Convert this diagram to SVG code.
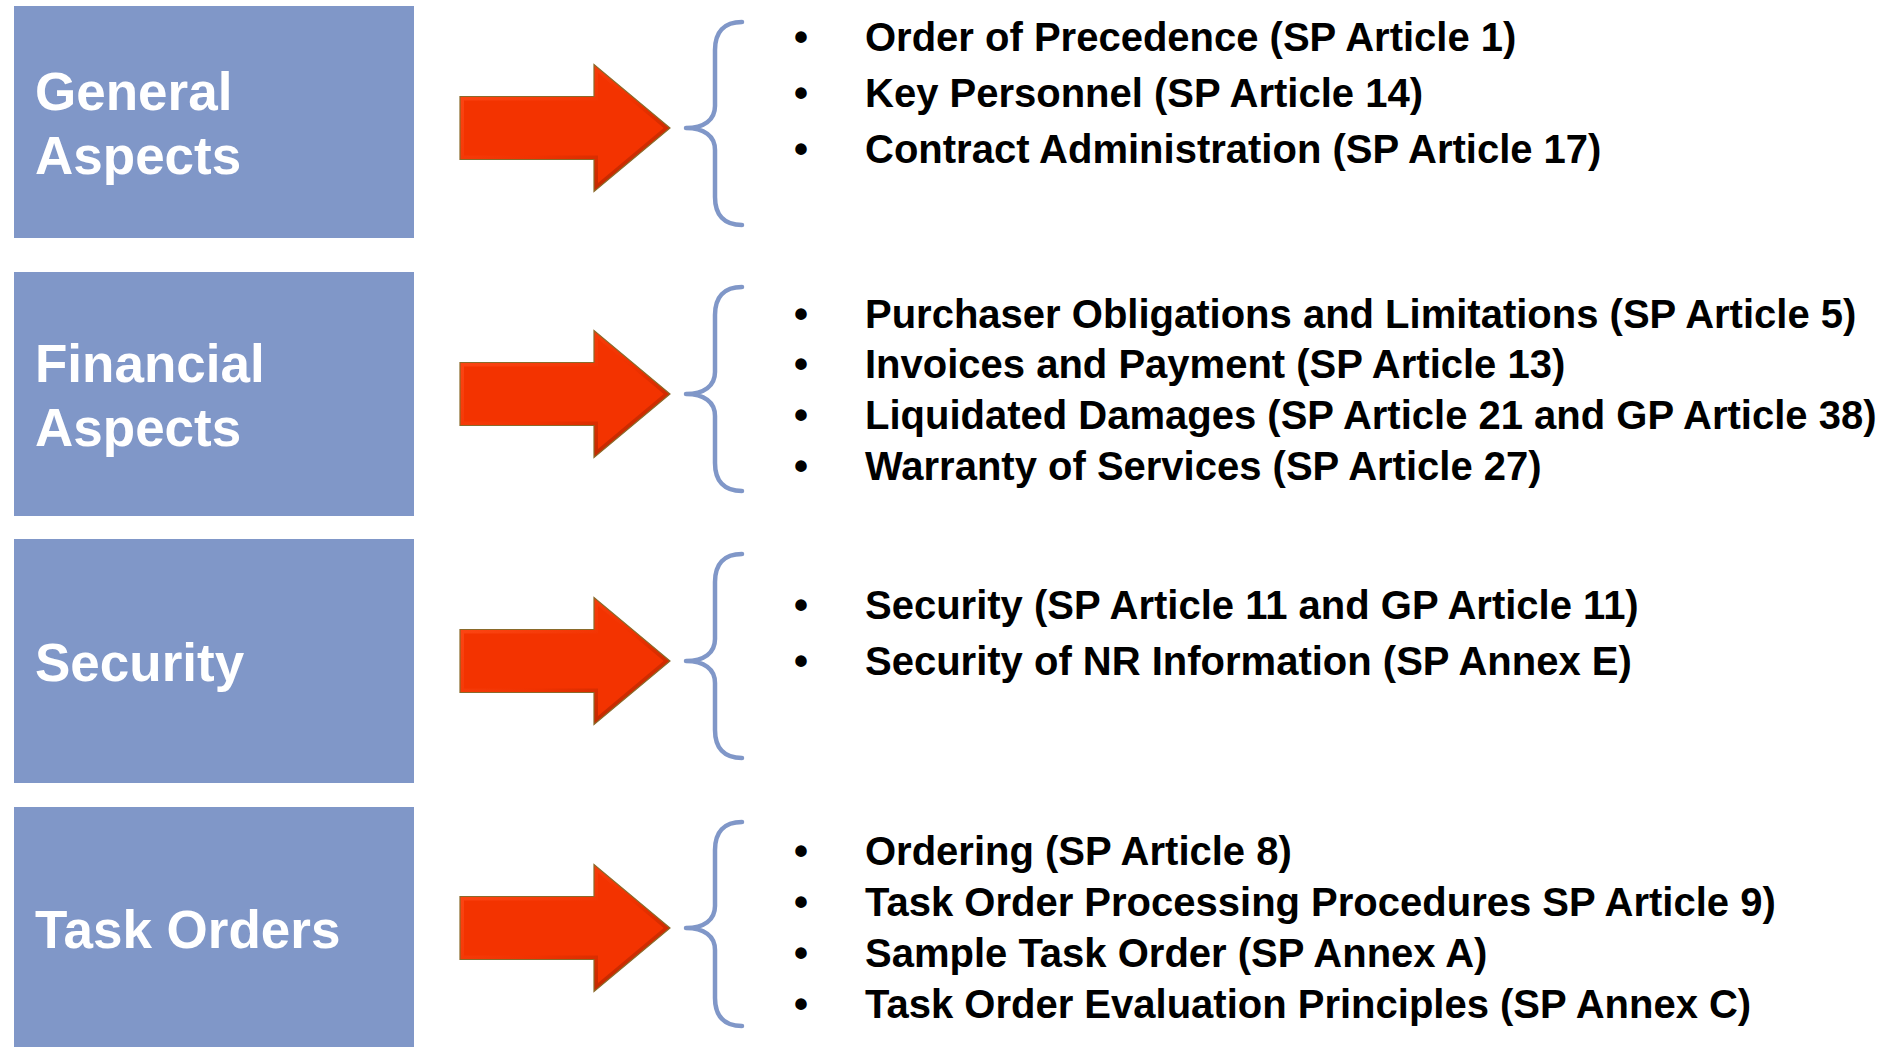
<svg xmlns="http://www.w3.org/2000/svg" width="1881" height="1047" viewBox="0 0 1881 1047">
  <style>
    .box { fill: #8097C8; }
    .box-label { font-family: "Liberation Sans", Arial, sans-serif; font-weight: bold; font-size: 53px; fill: #FFFFFF; }
    .item { font-family: "Liberation Sans", Arial, sans-serif; font-weight: bold; font-size: 40px; fill: #000000; }
    .brace { fill: none; stroke: #8097C8; stroke-width: 4.5; stroke-linecap: round; stroke-linejoin: round; }
  </style>
  <defs>
    <linearGradient id="arrowEdge" x1="0" y1="0" x2="1" y2="1">
      <stop offset="0" stop-color="#FF4A18"/>
      <stop offset="0.55" stop-color="#F03200"/>
      <stop offset="1" stop-color="#A82400"/>
    </linearGradient>
    <!-- block arrow with a bevelled rim; tip at (210,0) -->
    <g id="blockArrow">
      <polygon points="0,-31.5 134,-31.5 134,-63.5 210,0 134,63.5 134,31.5 0,31.5" fill="url(#arrowEdge)" stroke="#8A6A2A" stroke-width="1.2"/>
      <polygon points="4,-27.5 138,-27.5 138,-54.9 203.7,0 138,54.9 138,27.5 4,27.5" fill="#F33300"/>
    </g>
  </defs>

  <rect width="1881" height="1047" fill="#FFFFFF"/>

  <!-- category boxes -->
  <g id="general-aspects">
    <rect class="box" x="14" y="6" width="400" height="232"/>
    <text class="box-label" x="35" y="110">General</text>
    <text class="box-label" x="35" y="174">Aspects</text>
  </g>
  <g id="financial-aspects">
    <rect class="box" x="14" y="272" width="400" height="244"/>
    <text class="box-label" x="35" y="382">Financial</text>
    <text class="box-label" x="35" y="446">Aspects</text>
  </g>
  <g id="security">
    <rect class="box" x="14" y="539" width="400" height="244"/>
    <text class="box-label" x="35" y="681">Security</text>
  </g>
  <g id="task-orders">
    <rect class="box" x="14" y="807" width="400" height="240"/>
    <text class="box-label" x="35" y="948">Task Orders</text>
  </g>

  <!-- arrows and braces -->
  <g id="connectors">
    <use href="#blockArrow" transform="translate(460,128)"/>
    <use href="#blockArrow" transform="translate(460,394)"/>
    <use href="#blockArrow" transform="translate(460,661)"/>
    <use href="#blockArrow" transform="translate(460,928)"/>

    <path class="brace" d="M742,22 C724,22 715,32 715,50 V106 C715,120 704,128 686,128 C704,128 715,136 715,150 V197 C715,215 724,225 742,225"/>
    <path class="brace" d="M742,287 C724,287 715,297 715,315 V372 C715,386 704,394 686,394 C704,394 715,402 715,416 V463 C715,481 724,491 742,491"/>
    <path class="brace" d="M742,554 C724,554 715,564 715,582 V639 C715,653 704,661 686,661 C704,661 715,669 715,683 V730 C715,748 724,758 742,758"/>
    <path class="brace" d="M742,822 C724,822 715,832 715,850 V906 C715,920 704,928 686,928 C704,928 715,936 715,950 V998 C715,1016 724,1026 742,1026"/>
  </g>

  <!-- item lists -->
  <g id="general-items">
    <text class="item" x="794" y="51">•</text>
    <text class="item" x="865" y="51">Order of Precedence (SP Article 1)</text>
    <text class="item" x="794" y="107">•</text>
    <text class="item" x="865" y="107">Key Personnel (SP Article 14)</text>
    <text class="item" x="794" y="163">•</text>
    <text class="item" x="865" y="163">Contract Administration (SP Article 17)</text>
  </g>
  <g id="financial-items">
    <text class="item" x="794" y="328">•</text>
    <text class="item" x="865" y="328">Purchaser Obligations and Limitations (SP Article 5)</text>
    <text class="item" x="794" y="378">•</text>
    <text class="item" x="865" y="378">Invoices and Payment (SP Article 13)</text>
    <text class="item" x="794" y="429">•</text>
    <text class="item" x="865" y="429">Liquidated Damages (SP Article 21 and GP Article 38)</text>
    <text class="item" x="794" y="480">•</text>
    <text class="item" x="865" y="480">Warranty of Services (SP Article 27)</text>
  </g>
  <g id="security-items">
    <text class="item" x="794" y="619">•</text>
    <text class="item" x="865" y="619">Security (SP Article 11 and GP Article 11)</text>
    <text class="item" x="794" y="675">•</text>
    <text class="item" x="865" y="675">Security of NR Information (SP Annex E)</text>
  </g>
  <g id="task-order-items">
    <text class="item" x="794" y="865">•</text>
    <text class="item" x="865" y="865">Ordering (SP Article 8)</text>
    <text class="item" x="794" y="916">•</text>
    <text class="item" x="865" y="916">Task Order Processing Procedures SP Article 9)</text>
    <text class="item" x="794" y="967">•</text>
    <text class="item" x="865" y="967">Sample Task Order (SP Annex A)</text>
    <text class="item" x="794" y="1018">•</text>
    <text class="item" x="865" y="1018">Task Order Evaluation Principles (SP Annex C)</text>
  </g>
</svg>
